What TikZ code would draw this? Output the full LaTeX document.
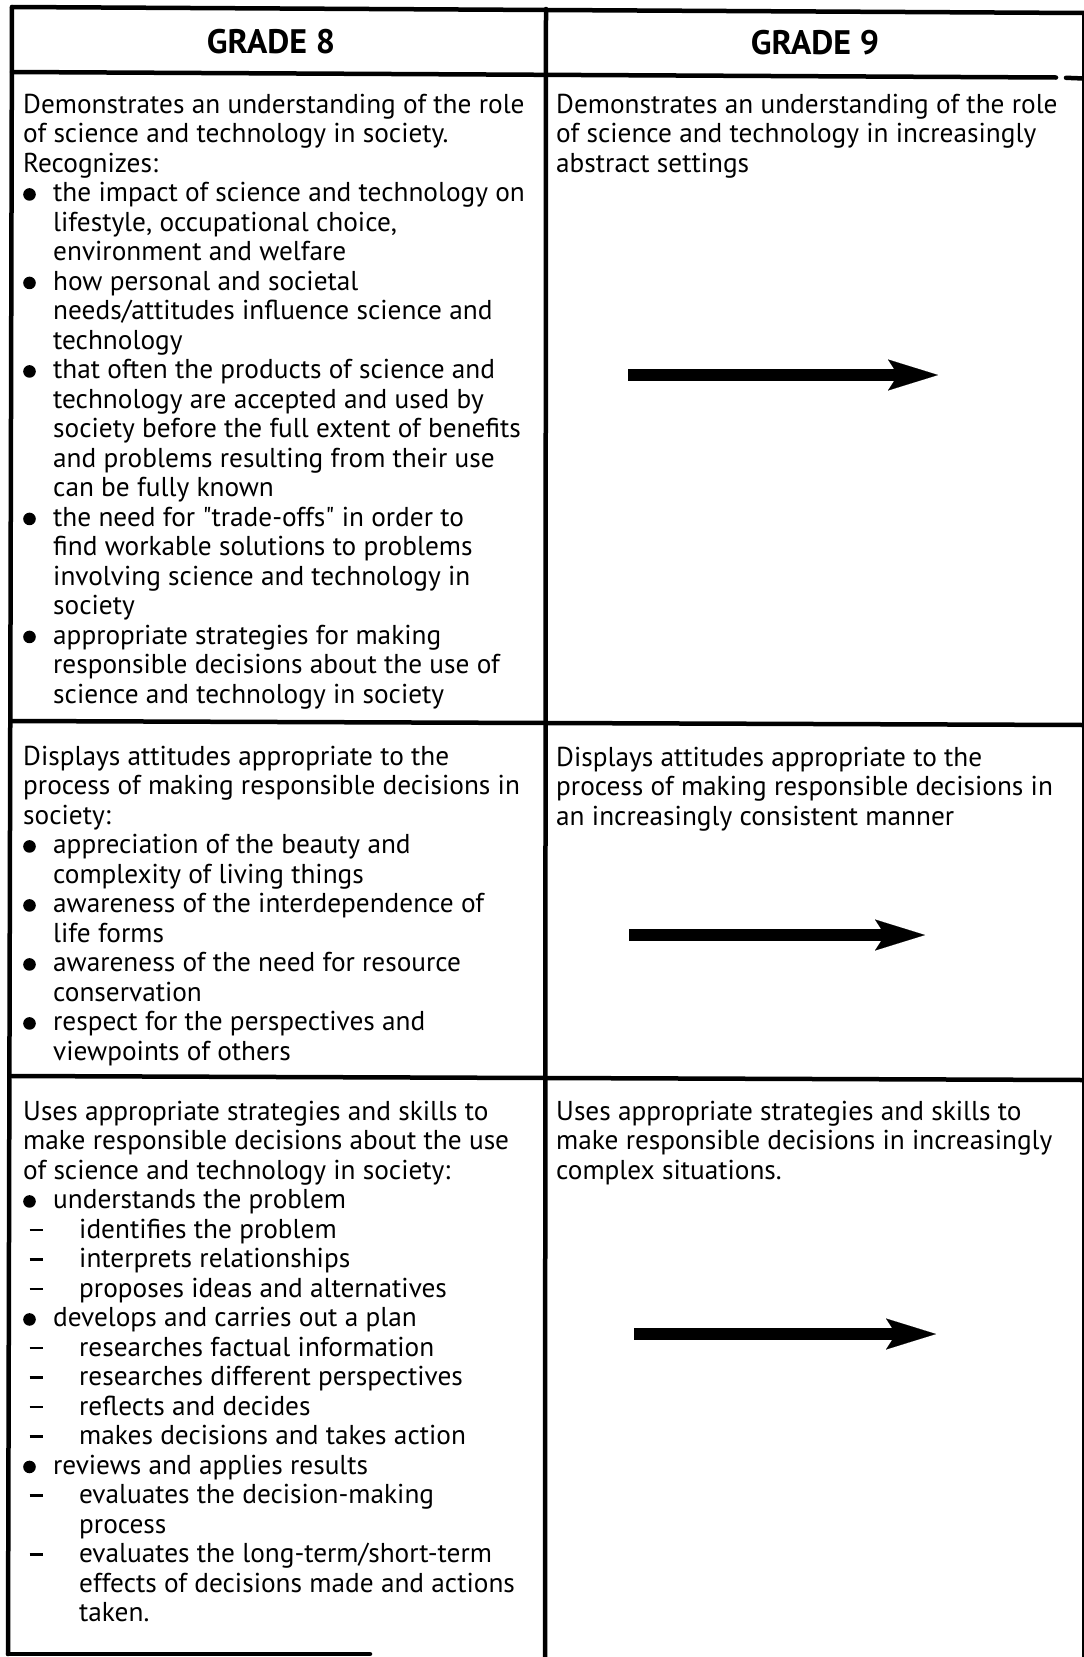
\documentclass[tikz,border=0pt]{standalone}
\usepackage{fontspec}
\setmainfont{PT Sans}
\usetikzlibrary{arrows.meta}

% list markers for the cell texts
\newcommand{\bul}{\makebox[30pt][l]{\raisebox{0.8pt}{\tikz\fill[black] (0,0) circle (6.3pt);}}}
\newcommand{\ind}{\hspace*{30pt}}
\newcommand{\dsh}{\makebox[56pt][l]{\hspace{6.5pt}\rule[7pt]{13pt}{2.3pt}}}
\newcommand{\dind}{\hspace*{56pt}}

\begin{document}
\begin{tikzpicture}[x=1pt,y=-1pt,
  rule/.style={line width=4.5pt,line cap=round},
  cell/.style={inner sep=0pt,anchor=north west,align=left,
    font=\fontsize{27.3}{29.5}\selectfont},
  head/.style={inner sep=0pt,font=\bfseries\fontsize{34}{36}\selectfont},
  bigarrow/.style={line width=12pt,
    -{Stealth[length=50pt,width=31pt,inset=10pt,line width=0.1pt]}}]
\useasboundingbox (0,0) rectangle (1084,1657);

% table rules
\draw[rule] (12,7) -- (1084,13);
\draw[rule] (12,72) -- (1056,77.5);
\draw[rule] (1066,77.8) -- (1084,78.5);
\draw[rule] (12,721) -- (1084,725);
\draw[rule] (12,1076) -- (1084,1080);
\draw[rule] (12,7) -- (8,1654);
\draw[rule] (8,1654) -- (370,1654);
\draw[rule] (546,9) -- (545,1660);
\draw[line width=3pt] (1083.5,12) -- (1083.5,1660);

% column heads
\node[head] (g8) at (271,42) {GRADE 8};
\node[head] (g9) at (815,43) {GRADE 9};

% row 1
\node[cell] (r1l) at (23,93.5) {Demonstrates an understanding of the role\\
of science and technology in society.\\
Recognizes:\\
\bul the impact of science and technology on\\
\ind lifestyle, occupational choice,\\
\ind environment and welfare\\
\bul how personal and societal\\
\ind needs/attitudes influence science and\\
\ind technology\\
\bul that often the products of science and\\
\ind technology are accepted and used by\\
\ind society before the full extent of benefits\\
\ind and problems resulting from their use\\
\ind can be fully known\\
\bul the need for \textquotedbl trade-offs\textquotedbl\ in order to\\
\ind find workable solutions to problems\\
\ind involving science and technology in\\
\ind society\\
\bul appropriate strategies for making\\
\ind responsible decisions about the use of\\
\ind science and technology in society};

\node[cell] (r1r) at (556,93.5) {Demonstrates an understanding of the role\\
of science and technology in increasingly\\
abstract settings};

% row 2
\node[cell] (r2l) at (23,745.5) {Displays attitudes appropriate to the\\
process of making responsible decisions in\\
society:\\
\bul appreciation of the beauty and\\
\ind complexity of living things\\
\bul awareness of the interdependence of\\
\ind life forms\\
\bul awareness of the need for resource\\
\ind conservation\\
\bul respect for the perspectives and\\
\ind viewpoints of others};

\node[cell] (r2r) at (556,746.5) {Displays attitudes appropriate to the\\
process of making responsible decisions in\\
an increasingly consistent manner};

% row 3
\node[cell] (r3l) at (23,1100.5) {Uses appropriate strategies and skills to\\
make responsible decisions about the use\\
of science and technology in society:\\
\bul understands the problem\\
\dsh identifies the problem\\
\dsh interprets relationships\\
\dsh proposes ideas and alternatives\\
\bul develops and carries out a plan\\
\dsh researches factual information\\
\dsh researches different perspectives\\
\dsh reflects and decides\\
\dsh makes decisions and takes action\\
\bul reviews and applies results\\
\dsh evaluates the decision-making\\
\dind process\\
\dsh evaluates the long-term/short-term\\
\dind effects of decisions made and actions\\
\dind taken.};

\node[cell] (r3r) at (556,1100.5) {Uses appropriate strategies and skills to\\
make responsible decisions in increasingly\\
complex situations.};

% progression arrows
\coordinate (a1s) at (628,375);
\coordinate (a1e) at (938,375);
\coordinate (a2s) at (629,935);
\coordinate (a2e) at (925,935);
\coordinate (a3s) at (634,1334);
\coordinate (a3e) at (936,1334);
\draw[bigarrow] (a1s) -- (a1e);
\draw[bigarrow] (a2s) -- (a2e);
\draw[bigarrow] (a3s) -- (a3e);
\end{tikzpicture}
\end{document}
